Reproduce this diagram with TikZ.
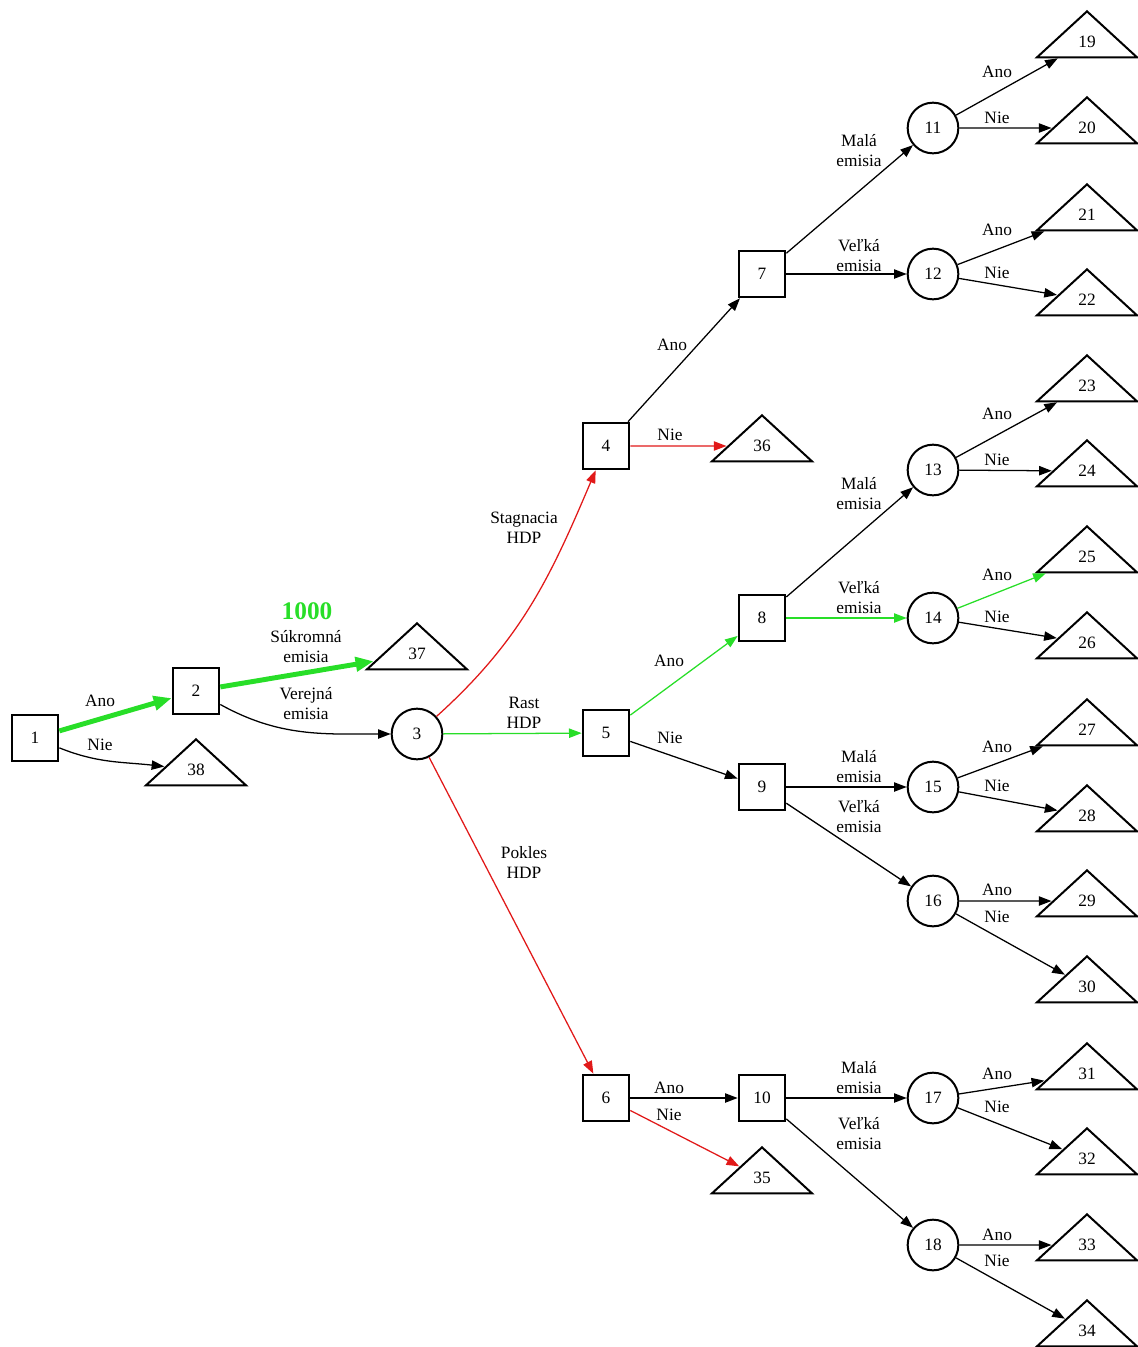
\documentclass[tikz,border=0pt]{standalone}
\usepackage{fontspec}
\setmainfont{Liberation Serif}
\usepackage{graphicx}
\usetikzlibrary{arrows.meta,shapes.geometric}
\definecolor{gvgreen}{RGB}{40,222,40}
\definecolor{gvred}{RGB}{225,25,25}
\newcommand{\tl}[1]{\scalebox{0.531}[1]{#1}}
\tikzset{
  sq/.style={draw, line width=1.5pt, minimum size=35pt, inner sep=0pt},
  ci/.style={circle, draw, line width=1.5pt, minimum size=38pt, inner sep=0pt},
  tri/.style={regular polygon, regular polygon sides=3, draw, line width=1.5pt,
    inner sep=0pt, minimum size=46pt, xscale=1.883},
  lab/.style={align=center, inner sep=1pt},
  edge/.style={line width=0.95pt, -{Triangle[length=9.5pt,width=7pt]}},
  gedge/.style={edge, draw=gvgreen},
  redge/.style={edge, draw=gvred},
  tedge/.style={line width=3.7pt, draw=gvgreen, -{Triangle[length=13.5pt,width=10.5pt]}}
}
\begin{document}
\begin{tikzpicture}[x=0.75pt, y=-0.75pt, font=\fontsize{13}{15}\selectfont]
\useasboundingbox (0,0) rectangle (1138,1347);
% decision / chance nodes
\node[sq] (n1) at (35,738) {1};
\node[sq] (n2) at (196,691) {2};
\node[ci] (n3) at (417,734) {3};
\node[sq] (n4) at (606,446) {4};
\node[sq] (n5) at (606,733) {5};
\node[sq] (n6) at (606,1098) {6};
\node[sq] (n7) at (762,274) {7};
\node[sq] (n8) at (762,618) {8};
\node[sq] (n9) at (762,787) {9};
\node[sq] (n10) at (762,1098) {10};
\node[ci] (n11) at (933,128) {11};
\node[ci] (n12) at (933,274) {12};
\node[ci] (n13) at (933,470) {13};
\node[ci] (n14) at (933,618) {14};
\node[ci] (n15) at (933,787) {15};
\node[ci] (n16) at (933,901) {16};
\node[ci] (n17) at (933,1098) {17};
\node[ci] (n18) at (933,1245) {18};
% terminal nodes
\node[tri] (t19) at (1087,42) {\tl{19}};
\node[tri] (t20) at (1087,128) {\tl{20}};
\node[tri] (t21) at (1087,215) {\tl{21}};
\node[tri] (t22) at (1087,300) {\tl{22}};
\node[tri] (t23) at (1087,386) {\tl{23}};
\node[tri] (t24) at (1087,471) {\tl{24}};
\node[tri] (t25) at (1087,557) {\tl{25}};
\node[tri] (t26) at (1087,643) {\tl{26}};
\node[tri] (t27) at (1087,730) {\tl{27}};
\node[tri] (t28) at (1087,816) {\tl{28}};
\node[tri] (t29) at (1087,901) {\tl{29}};
\node[tri] (t30) at (1087,987) {\tl{30}};
\node[tri] (t31) at (1087,1074) {\tl{31}};
\node[tri] (t32) at (1087,1159) {\tl{32}};
\node[tri] (t33) at (1087,1245) {\tl{33}};
\node[tri] (t34) at (1087,1331) {\tl{34}};
\node[tri] (t35) at (762,1178) {\tl{35}};
\node[tri] (t36) at (762,446) {\tl{36}};
\node[tri] (t37) at (417,654) {\tl{37}};
\node[tri] (t38) at (196,770) {\tl{38}};
% edges
\draw[tedge] (n1) -- (n2);
\draw[edge] (n1) to[out=-22, in=172] (t38);
\draw[tedge] (n2) -- (t37);
\draw[edge] (n2) to[out=-29, in=180] (n3);
\draw[redge] (n3) to[out=42, in=-113] (n4);
\draw[gedge] (n3) -- (n5);
\draw[redge] (n3) -- (n6);
\draw[edge] (n4) -- (n7);
\draw[redge] (n4) -- (t36);
\draw[gedge] (n5) -- (n8);
\draw[edge] (n5) -- (n9);
\draw[edge] (n6) -- (n10);
\draw[redge] (n6) -- (t35);
\draw[edge] (n7) -- (n11);
\draw[edge] (n7) -- (n12);
\draw[edge] (n8) -- (n13);
\draw[gedge] (n8) -- (n14);
\draw[edge] (n9) -- (n15);
\draw[edge] (n9) -- (n16);
\draw[edge] (n10) -- (n17);
\draw[edge] (n10) -- (n18);
\draw[edge] (n11) -- (t19);
\draw[edge] (n11) -- (t20);
\draw[edge] (n12) -- (t21);
\draw[edge] (n12) -- (t22);
\draw[edge] (n13) -- (t23);
\draw[edge] (n13) -- (t24);
\draw[gedge] (n14) -- (t25);
\draw[edge] (n14) -- (t26);
\draw[edge] (n15) -- (t27);
\draw[edge] (n15) -- (t28);
\draw[edge] (n16) -- (t29);
\draw[edge] (n16) -- (t30);
\draw[edge] (n17) -- (t31);
\draw[edge] (n17) -- (t32);
\draw[edge] (n18) -- (t33);
\draw[edge] (n18) -- (t34);
% edge labels
\node[lab] (a12) at (100,701) {Ano};
\node[lab] (b138) at (100,745) {Nie};
\node[lab, text=gvgreen, font=\bfseries\fontsize{19}{22}\selectfont] (v1000) at (307,611) {1000};
\node[lab] (s237) at (306,647) {Súkromná\\emisia};
\node[lab] (v23) at (306,704) {Verejná\\emisia};
\node[lab] (s34) at (524,528) {Stagnacia\\HDP};
\node[lab] (r35) at (524,713) {Rast\\HDP};
\node[lab] (p36) at (524,862) {Pokles\\HDP};
\node[lab] (a47) at (672,345) {Ano};
\node[lab] (b436) at (670,435) {Nie};
\node[lab] (a58) at (669,661) {Ano};
\node[lab] (b59) at (670,738) {Nie};
\node[lab] (a610) at (669,1088) {Ano};
\node[lab] (b635) at (669,1115) {Nie};
\node[lab] (m711) at (859,151) {Malá\\emisia};
\node[lab] (v712) at (859,256) {Veľká\\emisia};
\node[lab] (m813) at (859,494) {Malá\\emisia};
\node[lab] (v814) at (859,598) {Veľká\\emisia};
\node[lab] (m915) at (859,767) {Malá\\emisia};
\node[lab] (v916) at (859,817) {Veľká\\emisia};
\node[lab] (m1017) at (859,1078) {Malá\\emisia};
\node[lab] (v1018) at (859,1134) {Veľká\\emisia};
\node[lab] (a1119) at (997,72) {Ano};
\node[lab] (b1120) at (997,118) {Nie};
\node[lab] (a1221) at (997,230) {Ano};
\node[lab] (b1222) at (997,273) {Nie};
\node[lab] (a1323) at (997,414) {Ano};
\node[lab] (b1324) at (997,460) {Nie};
\node[lab] (a1425) at (997,575) {Ano};
\node[lab] (b1426) at (997,617) {Nie};
\node[lab] (a1527) at (997,747) {Ano};
\node[lab] (b1528) at (997,786) {Nie};
\node[lab] (a1629) at (997,890) {Ano};
\node[lab] (b1630) at (997,917) {Nie};
\node[lab] (a1731) at (997,1074) {Ano};
\node[lab] (b1732) at (997,1107) {Nie};
\node[lab] (a1833) at (997,1235) {Ano};
\node[lab] (b1834) at (997,1261) {Nie};
\end{tikzpicture}
\end{document}
